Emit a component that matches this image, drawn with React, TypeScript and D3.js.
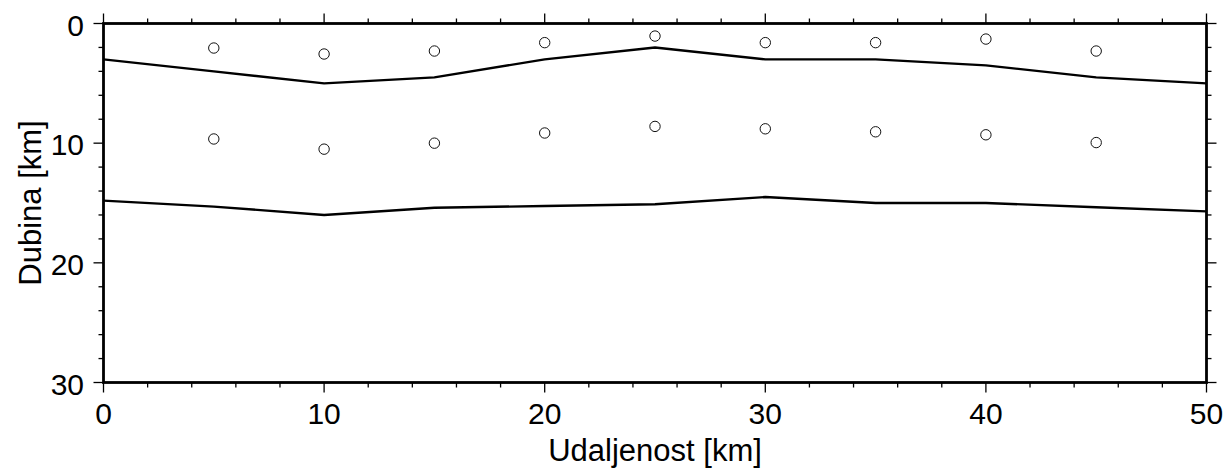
import React from "react";
import * as d3 from "d3";

const distances = [0, 5, 10, 15, 20, 25, 30, 35, 40, 45, 50];
const upperBoundary = [3.0, 4.0, 5.0, 4.5, 3.0, 2.0, 3.0, 3.0, 3.5, 4.5, 5.0];
const lowerBoundary = [14.8, 15.3, 16.0, 15.4, 15.25, 15.1, 14.5, 15.0, 15.0, 15.35, 15.7];

const pointDistances = [5, 10, 15, 20, 25, 30, 35, 40, 45];
const upperPoints = [2.05, 2.55, 2.3, 1.6, 1.05, 1.6, 1.6, 1.3, 2.3];
const lowerPoints = [9.65, 10.5, 10.0, 9.15, 8.6, 8.8, 9.05, 9.3, 9.95];

const xMajorTicks = [0, 10, 20, 30, 40, 50];
const yMajorTicks = [0, 10, 20, 30];
const xMinorTicks = d3.range(0, 50.001, 2);
const yMinorTicks = d3.range(0, 30.001, 2);

const xTitle = "Udaljenost [km]";
const yTitle = "Dubina [km]";

export default function App() {
  const W = 1227;
  const H = 468;
  const left = 103.5;
  const right = 1206.5;
  const top = 23.5;
  const bottom = 382.5;
  const x = d3.scaleLinear().domain([0, 50]).range([left, right]);
  const y = d3.scaleLinear().domain([0, 30]).range([top, bottom]);

  const line = d3
    .line<number>()
    .x((_, i) => x(distances[i]))
    .y((d) => y(d));

  const font = "'Liberation Sans', Arial, Helvetica, sans-serif";
  const tickW = 1.3;

  return (
    <svg
      width={W}
      height={H}
      style={{ position: "absolute", left: 0, top: 0, background: "#fff" }}
    >
      <rect x={0} y={0} width={W} height={H} fill="#fff" />
      <path d={line(upperBoundary) || ""} fill="none" stroke="#000" strokeWidth={2.4} strokeLinejoin="round" />
      <path d={line(lowerBoundary) || ""} fill="none" stroke="#000" strokeWidth={2.4} strokeLinejoin="round" />
      {pointDistances.map((d, i) => (
        <circle key={"u" + i} cx={x(d)} cy={y(upperPoints[i])} r={5.2} fill="none" stroke="#111" strokeWidth={1} />
      ))}
      {pointDistances.map((d, i) => (
        <circle key={"l" + i} cx={x(d)} cy={y(lowerPoints[i])} r={5.2} fill="none" stroke="#111" strokeWidth={1} />
      ))}

      {xMinorTicks.map((t) => {
        const major = xMajorTicks.includes(Math.round(t));
        const len = major ? 10 : 5;
        return (
          <g key={"xt" + t}>
            <line x1={x(t)} x2={x(t)} y1={bottom} y2={bottom + len} stroke="#000" strokeWidth={tickW} />
            <line x1={x(t)} x2={x(t)} y1={top} y2={top - len} stroke="#000" strokeWidth={tickW} />
          </g>
        );
      })}
      {yMinorTicks.map((t) => {
        const major = yMajorTicks.includes(Math.round(t));
        const len = major ? 10 : 5;
        return (
          <g key={"yt" + t}>
            <line x1={left} x2={left - len} y1={y(t)} y2={y(t)} stroke="#000" strokeWidth={tickW} />
            <line x1={right} x2={right + len} y1={y(t)} y2={y(t)} stroke="#000" strokeWidth={tickW} />
          </g>
        );
      })}

      <rect x={left} y={top} width={right - left} height={bottom - top} fill="none" stroke="#000" strokeWidth={2.8} />

      {xMajorTicks.map((t) => (
        <text key={"xl" + t} x={x(t)} y={424} textAnchor="middle" fontFamily={font} fontSize={30} fill="#000">
          {t}
        </text>
      ))}
      {yMajorTicks.map((t) => (
        <text key={"yl" + t} x={84} y={y(t) + 12} textAnchor="end" fontFamily={font} fontSize={30} fill="#000">
          {t}
        </text>
      ))}

      <text x={(left + right) / 2} y={461} textAnchor="middle" fontFamily={font} fontSize={31} fill="#000">
        {xTitle}
      </text>
      <text
        transform={`translate(41, ${(top + bottom) / 2}) rotate(-90)`}
        textAnchor="middle"
        fontFamily={font}
        fontSize={31}
        fill="#000"
      >
        {yTitle}
      </text>
    </svg>
  );
}
